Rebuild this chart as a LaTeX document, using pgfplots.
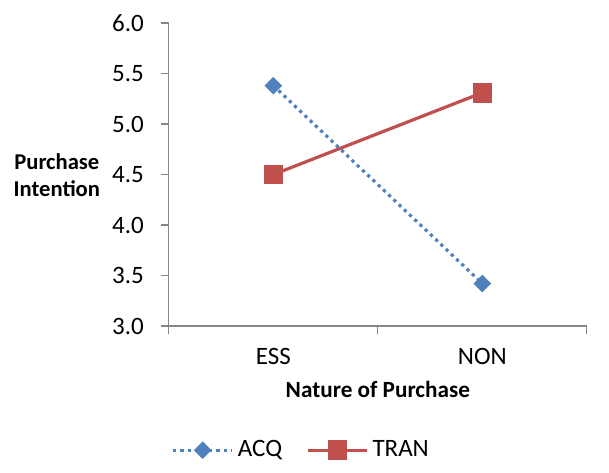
\documentclass[border=0pt]{standalone}
\usepackage{pgfplots}
\pgfplotsset{compat=1.18}
\usepackage{fontspec}
\setmainfont{Carlito}
\definecolor{acqblue}{HTML}{4F81BD}
\definecolor{tranred}{HTML}{C0504D}
\definecolor{axgray}{HTML}{868686}
\begin{document}
\begin{tikzpicture}
\begin{axis}[
    scale only axis,
    width=209pt, height=151.5pt,
    xmin=0, xmax=2, ymin=3, ymax=6,
    axis x line*=bottom, axis y line*=left,
    axis line style={axgray, line width=0.6pt},
    xtick={0,1,2}, xticklabels={},
    extra x ticks={0.5,1.5}, extra x tick labels={ESS,NON},
    extra x tick style={major tick length=0pt, xticklabel style={yshift=-7.5pt}},
    ytick={3,3.5,...,6},
    y tick label style={/pgf/number format/fixed, /pgf/number format/fixed zerofill, /pgf/number format/precision=1},
    /pgf/number format/assume math mode=true,
    tick style={axgray, line width=0.6pt},
    tick align=outside, major tick length=4pt,
    ticklabel style={font=\fontsize{12.5}{14}\selectfont, text=black},
    yticklabel style={xshift=-5pt},
    xlabel={\textbf{Nature of Purchase}},
    xlabel style={font=\fontsize{11.6}{13}\selectfont, at={(rel axis cs:0.5,-0.208)}, anchor=center},
    ylabel={\textbf{Purchase}\\\textbf{Intention}},
    ylabel style={font=\fontsize{11.3}{13.5}\selectfont, rotate=-90, align=center, at={(rel axis cs:-0.268,0.498)}, anchor=center},
    legend style={draw=none, fill=none, at={(rel axis cs:0.319,-0.41)}, anchor=center,
        legend columns=2, font=\fontsize{12.5}{14}\selectfont,
        /tikz/every even column/.append style={column sep=10pt}},
    legend image code/.code={
        \draw[mark repeat=2, mark phase=2, #1] plot coordinates {(0cm,0cm) (0.52cm,0cm) (1.04cm,0cm)};
    },
    clip=false,
]
\addplot[acqblue, line width=1.6pt, dotted, mark=square*, mark size=2.3pt, mark options={solid, fill=acqblue, rotate=45}]
    coordinates {(0.5,5.38) (1.5,3.42)};
\addlegendentry{ACQ}
\addplot[tranred, line width=1.6pt, mark=square*, mark size=4.1pt, mark options={solid, fill=tranred}]
    coordinates {(0.5,4.50) (1.5,5.31)};
\addlegendentry{TRAN}
\path[use as bounding box] (rel axis cs:-0.404,-0.482) rectangle (rel axis cs:1.053,1.076);
\end{axis}
\end{tikzpicture}
\end{document}
